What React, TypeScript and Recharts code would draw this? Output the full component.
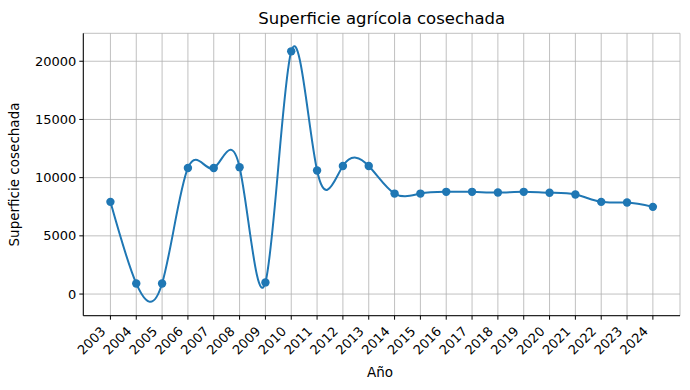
import React from 'react';
import { LineChart, Line, XAxis, YAxis, CartesianGrid } from 'recharts';

// years and harvested area
const YEARS = [
    2003, 2004, 2005, 2006, 2007, 2008, 2009, 2010, 2011, 2012, 2013,
    2014, 2015, 2016, 2017, 2018, 2019, 2020, 2021, 2022, 2023, 2024,
];
const SUPERFICIE = [
    7920, 910, 910, 10830, 10830, 10900, 1000, 20850, 10620, 11000, 11000,
    8630, 8630, 8780, 8780, 8720, 8780, 8700, 8550, 7920, 7860, 7490,
];
const Y_TICKS = [0, 5000, 10000, 15000, 20000];

const FONT = '"DejaVu Sans", sans-serif';
const BLUE = '#1f77b4';

const data = YEARS.map((year, i) => ({ year, value: SUPERFICIE[i] }));

// rotated year labels, right end at the tick like matplotlib's ha="right"
const YearTick = ({ x, y, payload }: any) => {
    const ax = x - 4;
    const ay = y + 10.5;
    return (
        <text
            x={ax}
            y={ay}
            textAnchor="end"
            fontSize={13}
            fontFamily={FONT}
            fill="#000"
            transform={`rotate(-45, ${ax}, ${ay})`}
        >
            {payload.value}
        </text>
    );
};

const App: React.FC = () => {
    return (
        <div style={{ position: 'absolute', left: 0, top: 0, width: 690, height: 390, background: '#fff' }}>
            <LineChart
                width={690}
                height={390}
                data={data}
                margin={{ top: 33.3, right: 10, bottom: 0, left: 0 }}
            >
                <CartesianGrid stroke="#b0b0b0" strokeWidth={0.8} />
                <XAxis
                    dataKey="year"
                    type="number"
                    domain={[2001.95, 2025.05]}
                    ticks={YEARS}
                    interval={0}
                    allowDataOverflow
                    height={74.3}
                    tickSize={4}
                    tickMargin={2}
                    stroke="#000"
                    tick={<YearTick />}
                />
                <YAxis
                    type="number"
                    domain={[-1860, 22400]}
                    ticks={Y_TICKS}
                    allowDataOverflow
                    width={83.3}
                    tickSize={4}
                    tickMargin={3}
                    stroke="#000"
                    tick={{ fill: '#000', fontSize: 13, fontFamily: FONT }}
                />
                <XAxis xAxisId="top" orientation="top" dataKey="year" type="number"
                    domain={[2001.95, 2025.05]} height={0} tick={false} tickLine={false} stroke="#000" />
                <YAxis yAxisId="right" orientation="right" type="number"
                    domain={[-1860, 22400]} width={0} tick={false} tickLine={false} stroke="#000" />
                <Line
                    type="natural"
                    dataKey="value"
                    stroke={BLUE}
                    strokeWidth={2}
                    dot={{ r: 4.2, fill: BLUE, stroke: 'none' }}
                    activeDot={false}
                    isAnimationActive={false}
                />
            </LineChart>
            <svg width={690} height={390} style={{ position: 'absolute', left: 0, top: 0, pointerEvents: 'none' }}>
                <text x={381.7} y={24} textAnchor="middle" fontSize={16.5} fontFamily={FONT} fill="#000">
                    Superficie agrícola cosechada
                </text>
                <text x={380} y={377} textAnchor="middle" fontSize={13.5} fontFamily={FONT} fill="#000">
                    Año
                </text>
                <text x={19} y={174.5} textAnchor="middle" fontSize={13.5} fontFamily={FONT} fill="#000"
                    transform="rotate(-90, 19, 174.5)">
                    Superficie cosechada
                </text>
            </svg>
        </div>
    );
};

export default App;
